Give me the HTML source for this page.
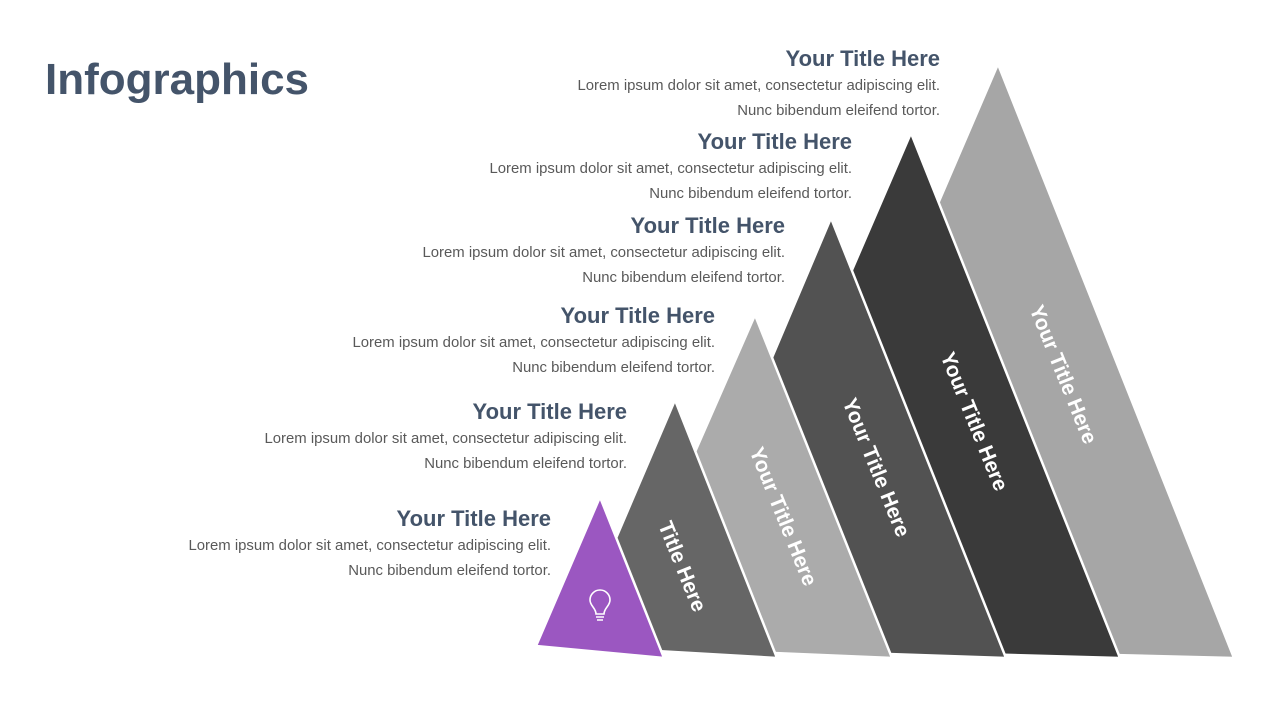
<!DOCTYPE html>
<html><head><meta charset="utf-8"><style>
body{margin:0;width:1280px;height:720px;background:#fff;position:relative;overflow:hidden;font-family:"Liberation Sans",sans-serif}
h1{position:absolute;left:45px;top:53px;margin:0;font-size:44px;font-weight:bold;color:#44546a;line-height:54px}
.b{position:absolute;text-align:right;white-space:nowrap}
.b .t{font-size:22px;font-weight:bold;color:#44546a;line-height:26px;margin-bottom:2px}
.b .l{font-size:14.9px;color:#595959;line-height:25px}
</style></head><body>
<h1>Infographics</h1>
<svg width="1280" height="720" style="position:absolute;left:0;top:0">
<g stroke="#fff" stroke-width="2.5" stroke-linejoin="miter">
<polygon points="998,64 1234,658 748,646" fill="#a6a6a6"/>
<polygon points="911,133 1120,658 690,646" fill="#3a3a3a"/>
<polygon points="831,218 1006,658 650,646" fill="#525252"/>
<polygon points="755,315 892,658 610,646" fill="#ababab"/>
<polygon points="675,400 777,658 570,646" fill="#666666"/>
<polygon points="600,497 664,658 536,646" fill="#9b57c1"/>
</g>
<g fill="#fff" font-family="Liberation Sans" font-weight="bold" font-size="21" text-anchor="middle" dominant-baseline="middle">
<text transform="translate(681,567) rotate(68)">Title Here</text>
<text transform="translate(782,517) rotate(68)">Your Title Here</text>
<text transform="translate(875,468) rotate(68)">Your Title Here</text>
<text transform="translate(973,422) rotate(68)">Your Title Here</text>
<text transform="translate(1062,375) rotate(68)">Your Title Here</text>
</g>
<g fill="none" stroke="#fff" stroke-width="1.6">
<path d="M596,614 C596,608 590,606 590,600 A10,10 0 1 1 610,600 C610,606 604,608 604,614 Z"/>
<path d="M596,617 H604 M597,620 H603"/>
</g>
</svg>
<div class="b" style="right:340px;top:46px"><div class="t">Your Title Here</div><div class="l">Lorem ipsum dolor sit amet, consectetur adipiscing elit.</div><div class="l">Nunc bibendum eleifend tortor.</div></div>
<div class="b" style="right:428px;top:129px"><div class="t">Your Title Here</div><div class="l">Lorem ipsum dolor sit amet, consectetur adipiscing elit.</div><div class="l">Nunc bibendum eleifend tortor.</div></div>
<div class="b" style="right:495px;top:213px"><div class="t">Your Title Here</div><div class="l">Lorem ipsum dolor sit amet, consectetur adipiscing elit.</div><div class="l">Nunc bibendum eleifend tortor.</div></div>
<div class="b" style="right:565px;top:303px"><div class="t">Your Title Here</div><div class="l">Lorem ipsum dolor sit amet, consectetur adipiscing elit.</div><div class="l">Nunc bibendum eleifend tortor.</div></div>
<div class="b" style="right:653px;top:399px"><div class="t">Your Title Here</div><div class="l">Lorem ipsum dolor sit amet, consectetur adipiscing elit.</div><div class="l">Nunc bibendum eleifend tortor.</div></div>
<div class="b" style="right:729px;top:506px"><div class="t">Your Title Here</div><div class="l">Lorem ipsum dolor sit amet, consectetur adipiscing elit.</div><div class="l">Nunc bibendum eleifend tortor.</div></div>
</body></html>
